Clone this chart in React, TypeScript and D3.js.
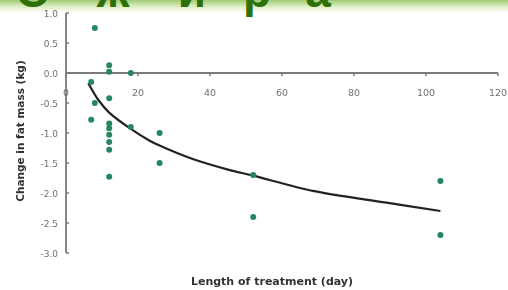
import * as React from 'react';
import * as d3 from 'd3';

// scatter of studies: length of treatment (day) vs change in fat mass (kg)
const days = [7, 8, 8, 7, 12, 12, 12, 12, 12, 12, 12, 12, 12, 18, 18, 26, 26, 52, 52, 104, 104];
const fatChange = [-0.15, -0.5, 0.75, -0.78, 0.13, 0.02, -0.42, -0.84, -0.92, -1.03, -1.15, -1.28, -1.73, 0.0, -0.9, -1.0, -1.5, -1.7, -2.4, -1.8, -2.7];

// fitted trend line
const trendDays = [6.2, 9, 12, 17.7, 23, 26, 35, 45, 52, 69, 89, 104];
const trendFat = [-0.17, -0.45, -0.66, -0.92, -1.12, -1.21, -1.43, -1.61, -1.71, -1.97, -2.16, -2.3];

const xTicks = [0, 20, 40, 60, 80, 100, 120];
const yTicks = [1.0, 0.5, 0.0, -0.5, -1.0, -1.5, -2.0, -2.5, -3.0];

const titleLetters = ['С', 'ж', 'и', 'р', 'а'];
const titleX = [32, 113, 192, 257, 318];

const W = 508;
const H = 290;

export default function App() {
    const x = d3.scaleLinear().domain([0, 120]).range([66, 498]);
    const y = d3.scaleLinear().domain([-3, 1]).range([253, 13]);

    const trend = d3.line<number>()
        .x((d, i) => x(trendDays[i]))
        .y((d) => y(d))
        .curve(d3.curveCatmullRom);

    const font = '"DejaVu Sans", Verdana, sans-serif';
    const titleFont = 'Arial, "Liberation Sans", sans-serif';

    return (
        <svg width={W} height={H} style={{position: 'absolute', left: 0, top: 0}}>
            <defs>
                <linearGradient id="band" x1="0" y1="0" x2="0" y2="1">
                    <stop offset="0" stopColor="#9fcb74" />
                    <stop offset="0.5" stopColor="#d9ebbd" />
                    <stop offset="1" stopColor="#fbfdf4" />
                </linearGradient>
                <filter id="soft" x="-50%" y="-50%" width="200%" height="200%">
                    <feGaussianBlur stdDeviation="0.6" />
                </filter>
                <filter id="haze" x="-5%" y="-5%" width="110%" height="110%">
                    <feGaussianBlur stdDeviation="0.45" />
                </filter>
            </defs>
            <rect x={0} y={0} width={W} height={H} fill="#ffffff" />
            <rect x={0} y={0} width={W} height={12} fill="url(#band)" />
            {titleLetters.map((t, i) => (
                <text key={i} x={titleX[i]} y={7} textAnchor="middle" fontFamily={titleFont}
                      fontWeight="bold" fontSize={46} fill="#2f7008">{t}</text>
            ))}

            <g filter="url(#haze)">
                {/* y axis */}
                <line x1={x(0)} x2={x(0)} y1={y(1)} y2={y(-3)} stroke="#7a7a7a" strokeWidth={1.8} />
                {yTicks.map((t) => (
                    <g key={t}>
                        <line x1={x(0)} x2={x(0) + 3} y1={y(t)} y2={y(t)} stroke="#7a7a7a" strokeWidth={1.5} />
                        <text x={58} y={y(t) + 3.5} textAnchor="end" fontFamily={font} fontSize={9}
                              fill="#707070">{t.toFixed(1)}</text>
                    </g>
                ))}

                {/* x axis at zero */}
                <line x1={x(0)} x2={x(120)} y1={y(0)} y2={y(0)} stroke="#7a7a7a" strokeWidth={1.8} />
                {xTicks.map((t) => (
                    <g key={t}>
                        <line x1={x(t)} x2={x(t)} y1={y(0)} y2={y(0) + 3} stroke="#7a7a7a" strokeWidth={1.5} />
                        <text x={x(t)} y={y(0) + 23} textAnchor="middle" fontFamily={font} fontSize={9.5}
                              fill="#707070">{t}</text>
                    </g>
                ))}

                {/* trend */}
                <path d={trend(trendFat) || ''} fill="none" stroke="#222" strokeWidth={2.2} />

                <text transform={`translate(24, 131) rotate(-90)`} textAnchor="middle" fontFamily={font}
                      fontWeight="bold" fontSize={10.5} fill="#333">Change in fat mass (kg)</text>
                <text x={272} y={285} textAnchor="middle" fontFamily={font} fontWeight="bold" fontSize={11}
                      fill="#333">Length of treatment (day)</text>
            </g>

            {/* points */}
            <g filter="url(#soft)">
                {days.map((d, i) => (
                    <circle key={i} cx={x(d)} cy={y(fatChange[i])} r={3} fill="#27875f" />
                ))}
            </g>
        </svg>
    );
}
